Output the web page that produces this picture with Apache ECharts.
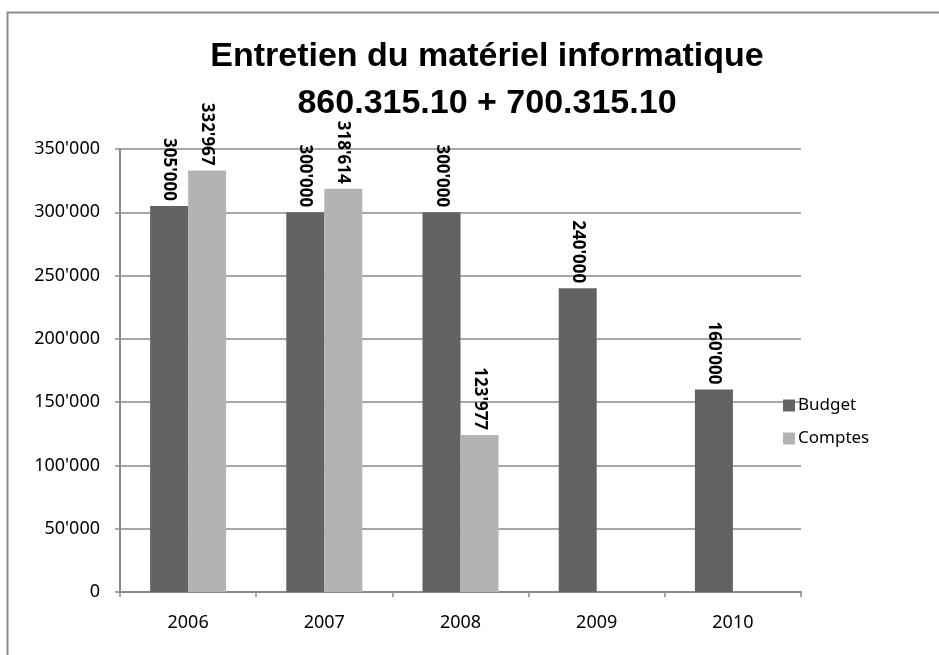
<!DOCTYPE html>
<html>
<head>
<meta charset="utf-8">
<script src="https://cdn.jsdelivr.net/npm/echarts@6/dist/echarts.min.js"></script>
<style>
  html, body { margin: 0; padding: 0; background: #fff; }
  #chart { width: 939px; height: 655px; }
</style>
</head>
<body>
<div id="chart"></div>
<script>
// données du graphique
const years = ['2006', '2007', '2008', '2009', '2010']
const budget = [305000, 300000, 300000, 240000, 160000]
const comptes = [332967, 318614, 123977, null, null]
const yTicks = { min: 0, max: 350000, interval: 50000 }

const fmt = v => {
  const s = String(Math.round(v))
  return s.replace(/\B(?=(\d{3})+(?!\d))/g, "'")
}

const gridColor = '#8a8a8a'
const textFont = "'Noto Sans', 'Liberation Sans', sans-serif"

const chart = echarts.init(document.getElementById('chart'))

const labelOpt = {
  show: true,
  position: 'top',
  rotate: -90,
  align: 'right',
  verticalAlign: 'middle',
  distance: 5,
  color: '#000',
  fontWeight: 'bold',
  fontSize: 17,
  fontFamily: textFont,
  formatter: p => fmt(p.value),
}

chart.setOption({
  animation: false,
  backgroundColor: '#fff',
  title: {
    text: 'Entretien du matériel informatique\n860.315.10 + 700.315.10',
    left: 482,
    textAlign: 'center',
    top: 28,
    textStyle: {
      fontFamily: "'Liberation Sans Narrow', 'Liberation Sans', sans-serif",
      fontWeight: 'bold',
      fontSize: 34,
      lineHeight: 47,
      color: '#000',
    },
  },
  graphic: [
    {
      type: 'polyline',
      shape: { points: [[7.5, 660], [7.5, 12.5], [945, 12.5]] },
      style: { stroke: '#8c8c8c', lineWidth: 2, fill: null },
      silent: true,
    },
  ],
  legend: {
    orient: 'vertical',
    left: 778,
    top: 392,
    itemWidth: 12,
    itemHeight: 12,
    itemGap: 16,
    icon: 'rect',
    textStyle: { fontFamily: textFont, fontSize: 17, color: '#000', padding: [0, 0, 0, -2] },
    data: ['Budget', 'Comptes'],
  },
  grid: { left: 120, right: 138, top: 149, bottom: 63 },
  xAxis: {
    type: 'category',
    data: years,
    boundaryGap: true,
    axisLine: { lineStyle: { color: gridColor, width: 2 } },
    axisTick: { show: true, length: 5, lineStyle: { color: gridColor, width: 1.5 } },
    axisLabel: { margin: 22, color: '#000', fontSize: 18, fontFamily: textFont },
  },
  yAxis: {
    type: 'value',
    min: yTicks.min,
    max: yTicks.max,
    interval: yTicks.interval,
    axisLine: { show: true, lineStyle: { color: gridColor, width: 2 } },
    axisTick: { show: true, length: 5, lineStyle: { color: gridColor, width: 1.5 } },
    axisLabel: { margin: 20, color: '#000', fontSize: 18, fontFamily: textFont, formatter: fmt },
    splitLine: { lineStyle: { color: gridColor, width: 1.5 } },
  },
  series: [
    {
      name: 'Budget',
      type: 'bar',
      data: budget,
      barWidth: 38,
      barGap: '0%',
      itemStyle: { color: '#636363' },
      label: labelOpt,
    },
    {
      name: 'Comptes',
      type: 'bar',
      data: comptes,
      barWidth: 38,
      itemStyle: { color: '#b3b3b3' },
      label: labelOpt,
    },
  ],
})

window.addEventListener('resize', () => chart.resize())
</script>
</body>
</html>
